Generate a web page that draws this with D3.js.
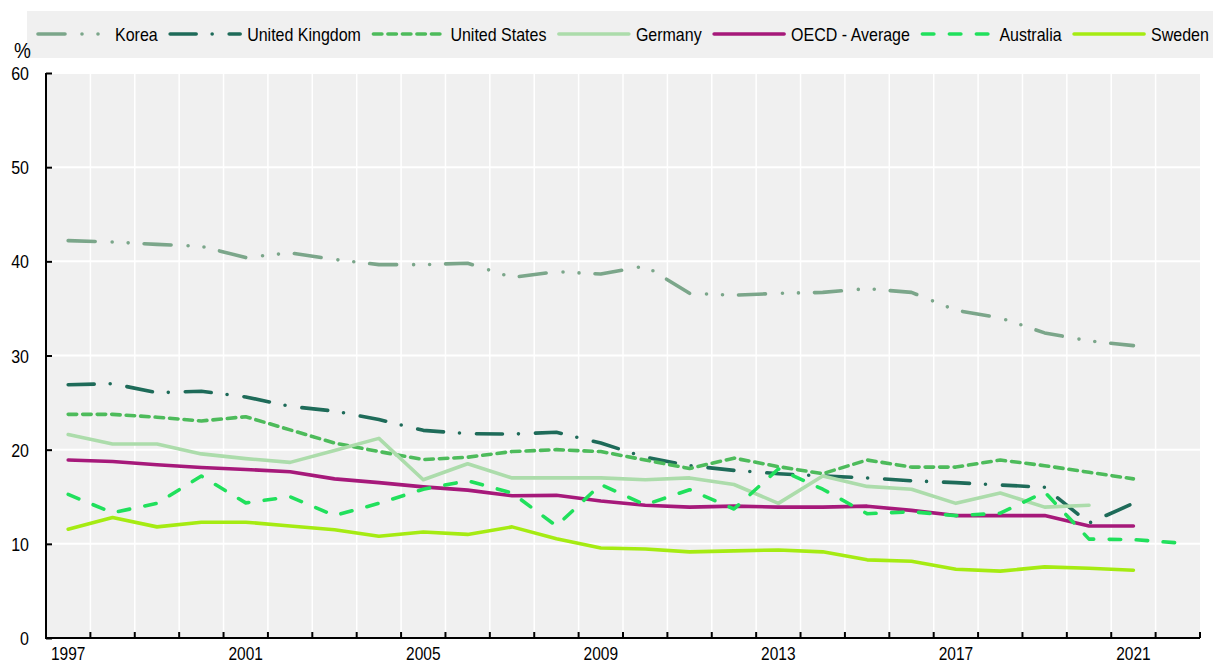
<!DOCTYPE html>
<html>
<head>
<meta charset="utf-8">
<script src="https://cdn.jsdelivr.net/npm/d3@7"></script>
<style>
  body { margin: 0; background: #ffffff; }
  text { font-family: "Liberation Sans", Arial, sans-serif; }
</style>
</head>
<body>
<div id="chart"></div>
<script>
// Data
var years = d3.range(1997, 2023);
var yTicks = [0, 10, 20, 30, 40, 50, 60];
var xLabelYears = [1997, 2001, 2005, 2009, 2013, 2017, 2021];

var korea = [42.2, 42.05, 41.8, 41.6, 40.4, 40.9, 40.2, 39.65, 39.65, 39.8, 38.3, 38.9, 38.65,
  39.5, 36.6, 36.4, 36.6, 36.7, 37.1, 36.7, 34.8, 34.0, 32.4, 31.55, 31.05];
var unitedKingdom = [26.9, 27.0, 26.05, 26.2, 25.6, 24.6, 24.1, 23.2, 22.05, 21.7, 21.65, 21.85, 20.7,
  19.2, 18.3, 17.8, 17.45, 17.2, 17.0, 16.7, 16.5, 16.25, 16.0, 12.2, 14.3];
var unitedStates = [23.75, 23.75, 23.45, 23.05, 23.5, 22.1, 20.7, 19.8, 18.95, 19.2, 19.8, 20.0, 19.8,
  18.9, 18.0, 19.1, 18.2, 17.45, 18.9, 18.15, 18.15, 18.9, 18.3, 17.6, 16.9];
var germany = [21.6, 20.6, 20.6, 19.55, 19.05, 18.65, 19.9, 21.2, 16.8, 18.5, 17.0, 17.0, 17.0,
  16.8, 17.0, 16.3, 14.3, 17.2, 16.1, 15.8, 14.3, 15.4, 13.9, 14.1];
var oecdAverage = [18.9, 18.75, 18.4, 18.1, 17.9, 17.65, 16.9, 16.5, 16.05, 15.7, 15.1, 15.15, 14.55,
  14.1, 13.9, 14.0, 13.9, 13.9, 14.0, 13.55, 13.0, 13.0, 13.0, 11.9, 11.9];
var australia = [15.25, 13.3, 14.3, 17.2, 14.35, 15.0, 13.0, 14.3, 15.8, 16.7, 15.4, 11.9, 16.3,
  14.15, 15.75, 13.7, 17.95, 15.8, 13.2, 13.4, 13.0, 13.25, 15.5, 10.5, 10.45, 10.1];
var sweden = [11.55, 12.8, 11.8, 12.3, 12.3, 11.9, 11.5, 10.8, 11.25, 11.0, 11.8, 10.55, 9.55,
  9.45, 9.15, 9.25, 9.35, 9.15, 8.3, 8.15, 7.3, 7.1, 7.55, 7.4, 7.2];

var seriesNames = ["Korea", "United Kingdom", "United States", "Germany", "OECD - Average", "Australia", "Sweden"];
var seriesValues = [korea, unitedKingdom, unitedStates, germany, oecdAverage, australia, sweden];
var seriesColors = ["#7ba68a", "#1e6b59", "#4dbb5b", "#acdcab", "#a6197a", "#20e05c", "#a5eb12"];
var seriesDashes = ["27 17 0 16 0 16", "26 16 0 17", "8.5 6", null, null, "11.5 15.5", null];

// SVG dimensions
var svgWidth = 1213;
var svgHeight = 663;

var margin = { top: 73, right: 13, bottom: 25, left: 46 };
var width = svgWidth - margin.left - margin.right;
var height = svgHeight - margin.top - margin.bottom;

var svg = d3.select("#chart")
  .append("svg")
  .attr("width", svgWidth)
  .attr("height", svgHeight);

var chart = svg.append("g")
  .attr("transform", `translate(${margin.left}, ${margin.top})`);

// text in the source is drawn slightly stretched vertically
function addText(parent, tx, ty, str, size, anchor) {
  return parent.append("text")
    .attr("transform", `translate(${tx},${ty}) scale(1,1.2)`)
    .attr("text-anchor", anchor || "start")
    .attr("font-size", size + "px")
    .attr("fill", "#000")
    .text(str);
}

// Scales
var x = d3.scaleBand()
  .domain(years)
  .range([0, width])
  .padding(0);

var y = d3.scaleLinear()
  .domain([0, 60])
  .range([height, 0]);

// Plot background
chart.append("rect")
  .attr("width", width)
  .attr("height", height)
  .attr("fill", "#f0f0f0");

// Vertical grid at band boundaries
chart.append("g")
  .selectAll("line")
  .data(years.slice(1))
  .enter()
  .append("line")
  .attr("x1", d => x(d))
  .attr("x2", d => x(d))
  .attr("y1", 0)
  .attr("y2", height)
  .attr("stroke", "#ffffff")
  .attr("stroke-width", 1.5);

// Horizontal grid
chart.append("g")
  .selectAll("line")
  .data(yTicks.slice(1))
  .enter()
  .append("line")
  .attr("x1", 0)
  .attr("x2", width)
  .attr("y1", d => y(d))
  .attr("y2", d => y(d))
  .attr("stroke", "#ffffff")
  .attr("stroke-width", 2);

// Lines
var line = d3.line()
  .x((d, i) => x(years[i]) + x.bandwidth() / 2)
  .y(d => y(d));

seriesValues.forEach(function (values, i) {
  chart.append("path")
    .datum(values)
    .attr("d", line)
    .attr("fill", "none")
    .attr("stroke", seriesColors[i])
    .attr("stroke-width", 3.6)
    .attr("stroke-linecap", "round")
    .attr("stroke-linejoin", "round")
    .attr("stroke-dasharray", seriesDashes[i]);
});

// Axes
var leftAxis = d3.axisRight(y)
  .tickValues(yTicks)
  .tickSize(6)
  .tickFormat("");

var yAxisGroup = chart.append("g").call(leftAxis);
yAxisGroup.select(".domain").attr("d", `M0,0V${height}`).attr("stroke-width", 2);
yAxisGroup.selectAll(".tick line").attr("stroke-width", 2);

var bottomTicks = years.slice(1).concat(["end"]);
chart.append("g")
  .attr("transform", `translate(0,${height})`)
  .selectAll("line")
  .data(bottomTicks)
  .enter()
  .append("line")
  .attr("x1", d => d === "end" ? width : x(d))
  .attr("x2", d => d === "end" ? width : x(d))
  .attr("y1", 0)
  .attr("y2", -6)
  .attr("stroke", "#000")
  .attr("stroke-width", 2);

chart.append("line")
  .attr("x1", -1)
  .attr("x2", width)
  .attr("y1", height)
  .attr("y2", height)
  .attr("stroke", "#000")
  .attr("stroke-width", 2);

// Tick labels
yTicks.forEach(function (d) {
  addText(chart, -17, y(d) + 7, d, 16, "end");
});

xLabelYears.forEach(function (d) {
  addText(chart, x(d) + x.bandwidth() / 2, height + 21.5, d, 15.5, "middle");
});

// Legend
svg.append("rect")
  .attr("x", 27)
  .attr("y", 11)
  .attr("width", svgWidth - 27)
  .attr("height", 47)
  .attr("fill", "#f0f0f0");

addText(svg, 14, 57.5, "%", 19);

var legendX = 38;
var legendY = 34;
seriesNames.forEach(function (name, i) {
  svg.append("line")
    .attr("x1", legendX)
    .attr("x2", legendX + 70)
    .attr("y1", legendY)
    .attr("y2", legendY)
    .attr("stroke", seriesColors[i])
    .attr("stroke-width", 3.6)
    .attr("stroke-linecap", "round")
    .attr("stroke-dasharray", seriesDashes[i]);

  var label = addText(svg, legendX + 77, legendY + 6.5, name, 16);

  legendX = legendX + 77 + label.node().getComputedTextLength() + 12.5;
});
</script>
</body>
</html>
